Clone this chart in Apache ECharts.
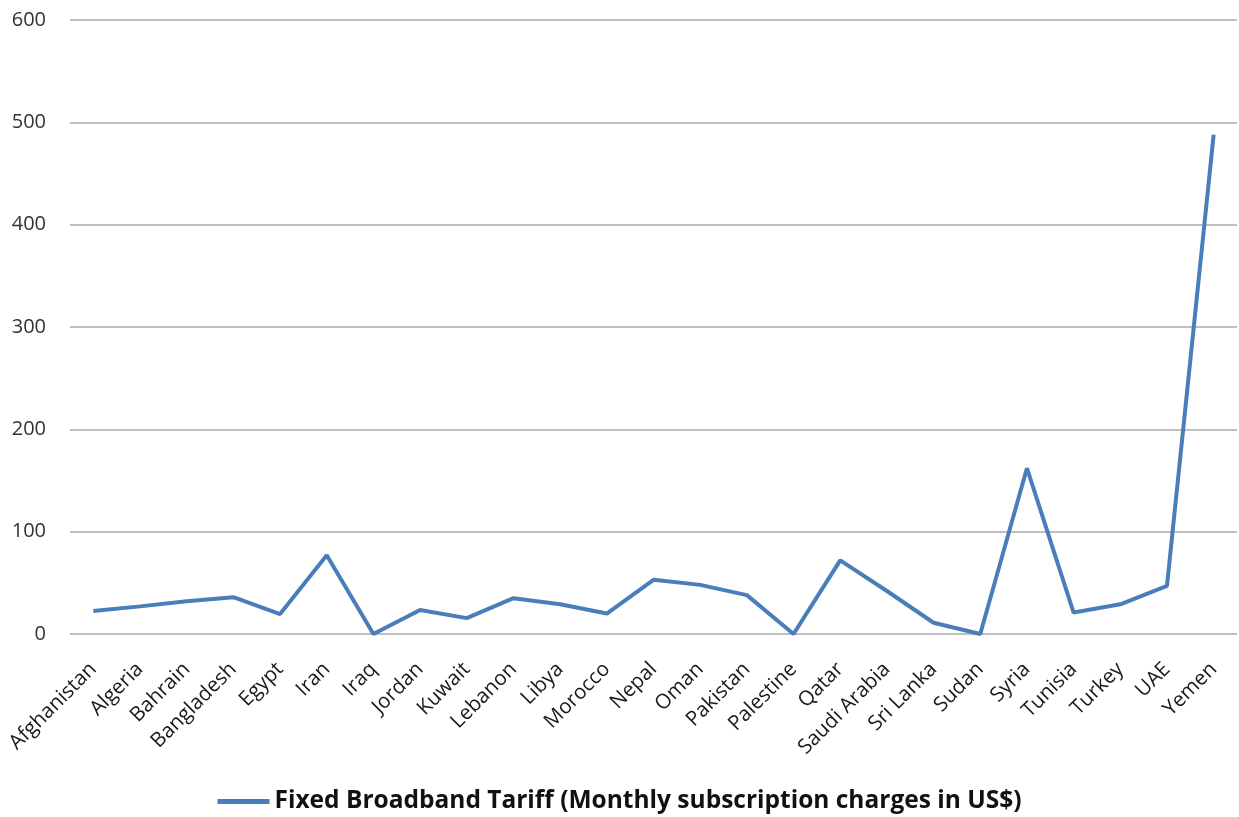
<!DOCTYPE html>
<html><head><meta charset="utf-8">
<script src="https://cdn.jsdelivr.net/npm/echarts@6/dist/echarts.min.js"></script>
<style>html,body{margin:0;padding:0;background:#fff;}#c{width:1239px;height:817px;}</style>
</head><body><div id="c"></div>
<script>
const categories = ["Afghanistan","Algeria","Bahrain","Bangladesh","Egypt","Iran","Iraq","Jordan","Kuwait","Lebanon","Libya","Morocco","Nepal","Oman","Pakistan","Palestine","Qatar","Saudi Arabia","Sri Lanka","Sudan","Syria","Tunisia","Turkey","UAE","Yemen"];
const tariff = [22.5,27,32,36,19.5,77,0,23.5,15.5,35,29,20,53,48,38,0,72,42,11,0,162,21,29,47,488];
const seriesName = "Fixed Broadband Tariff (Monthly subscription charges in US$)";
const yTicks = {min:0,max:600,interval:100};
const chart = echarts.init(document.getElementById('c'));
chart.setOption({
  animation:false,
  textStyle:{fontFamily:"Open Sans"},
  grid:{left:70,right:2,top:20,bottom:183,containLabel:false},
  legend:{top:784,left:'center',itemWidth:52,itemHeight:5,itemGap:3,icon:'rect',
    textStyle:{fontSize:24.5,fontWeight:'bold',color:'#111',fontFamily:"Open Sans"},
    data:[seriesName]},
  xAxis:{type:'category',data:categories,boundaryGap:true,
    axisLine:{show:false},axisTick:{show:false},
    axisLabel:{rotate:45,interval:0,fontSize:20.5,color:'#1a1a1a',margin:32}},
  yAxis:{type:'value',min:yTicks.min,max:yTicks.max,interval:yTicks.interval,
    axisLine:{show:false},axisTick:{show:false},
    axisLabel:{fontSize:20,color:'#333',margin:24},
    splitLine:{lineStyle:{color:'#bfbfbf',width:2}}},
  series:[{name:seriesName,type:'line',data:tariff,symbol:'none',
    lineStyle:{color:'#4a7ebb',width:4},itemStyle:{color:'#4a7ebb'}}]
});
</script></body></html>
